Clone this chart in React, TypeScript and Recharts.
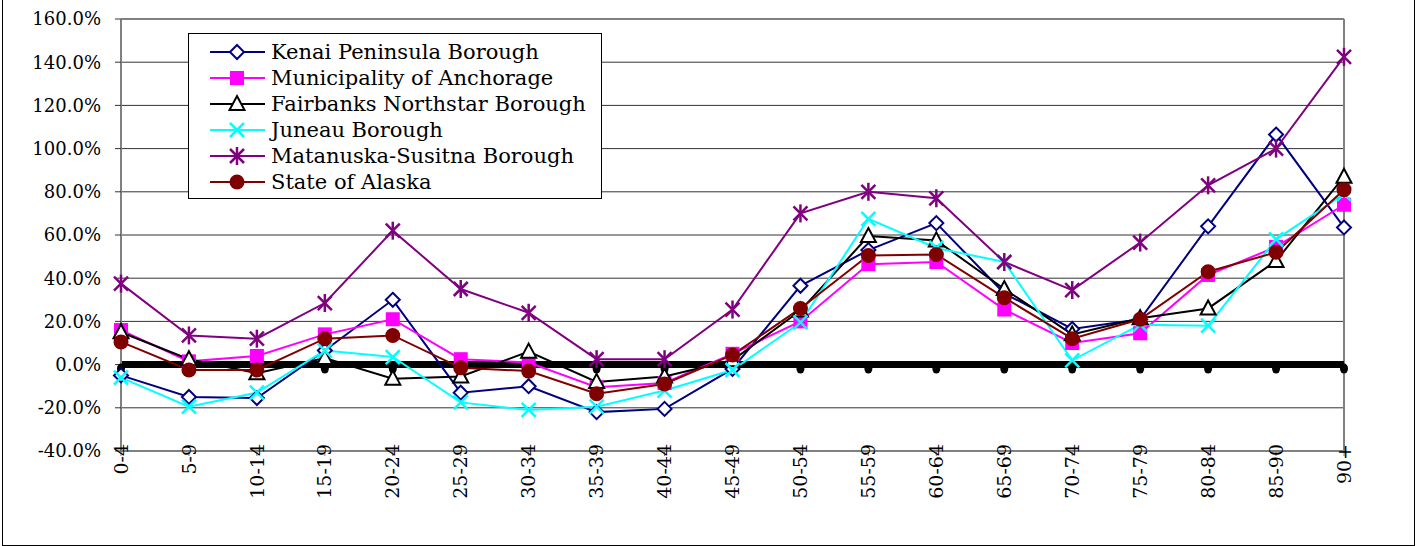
import React from "react";
import {
  LineChart,
  Line,
  XAxis,
  YAxis,
  CartesianGrid,
  Legend,
  ReferenceLine,
} from "recharts";

const categories = [
  "0-4", "5-9", "10-14", "15-19", "20-24", "25-29", "30-34", "35-39", "40-44", "45-49",
  "50-54", "55-59", "60-64", "65-69", "70-74", "75-79", "80-84", "85-90", "90+",
];

const kenai = [-5, -15, -15.5, 6.5, 30, -13, -10, -22, -20.5, -2, 36.5, 53, 65.5, 33, 16.5, 21, 64, 106.5, 63.5];
const anchorage = [16, 1.5, 4, 14, 21, 2.5, 1, -10.5, -8.5, 5, 20, 46.5, 47.5, 25.5, 10, 14.5, 41.5, 54.5, 74];
const fairbanks = [15, 2.5, -4, 3, -6.5, -5.5, 6, -8, -5.5, 2, 25, 59.5, 57.5, 35, 14, 21.5, 26, 48, 87];
const juneau = [-6, -19.5, -13, 6.5, 3.5, -17.5, -21, -19.5, -12, -2.5, 19.5, 67.5, 54, 47.5, 2, 18.5, 18, 58, 79];
const matSu = [37.5, 13.5, 12, 28.5, 62, 35, 24, 2.5, 2.5, 25.5, 70, 80, 77, 47.5, 34.5, 56.5, 83, 100, 142.5];
const alaska = [10.5, -2.5, -2.5, 12, 13.5, -1.5, -3, -13.5, -9, 4.5, 26, 50.5, 51, 31, 12, 21, 43, 52, 81];
const baseline = [0, 0, 0, 0, 0, 0, 0, 0, 0, 0, 0, 0, 0, 0, 0, 0, 0, 0, 0];

const yTicks = [-40, -20, 0, 20, 40, 60, 80, 100, 120, 140, 160];

const series = [
  { key: "kenai", name: "Kenai Peninsula Borough", color: "#000080", shape: "diamond" },
  { key: "anchorage", name: "Municipality of Anchorage", color: "#FF00FF", shape: "square" },
  { key: "fairbanks", name: "Fairbanks Northstar Borough", color: "#000000", shape: "triangle" },
  { key: "juneau", name: "Juneau Borough", color: "#00FFFF", shape: "cross" },
  { key: "matSu", name: "Matanuska-Susitna Borough", color: "#800080", shape: "star" },
  { key: "alaska", name: "State of Alaska", color: "#800000", shape: "circle" },
];

const data = categories.map((c, i) => ({
  cat: c,
  kenai: kenai[i],
  anchorage: anchorage[i],
  fairbanks: fairbanks[i],
  juneau: juneau[i],
  matSu: matSu[i],
  alaska: alaska[i],
  baseline: baseline[i],
}));

const FONT = "'DejaVu Serif', serif";

function Marker({ shape, color, cx, cy }: any) {
  const s = 7;
  switch (shape) {
    case "diamond":
      return (
        <polygon
          points={`${cx},${cy - s} ${cx + s},${cy} ${cx},${cy + s} ${cx - s},${cy}`}
          fill="#fff"
          stroke={color}
          strokeWidth={2}
        />
      );
    case "square":
      return <rect x={cx - 7} y={cy - 7} width={14} height={14} fill={color} />;
    case "triangle":
      return (
        <polygon
          points={`${cx},${cy - 8} ${cx + 7.5},${cy + 6} ${cx - 7.5},${cy + 6}`}
          fill="#fff"
          stroke={color}
          strokeWidth={2}
        />
      );
    case "cross":
      return (
        <g stroke={color} strokeWidth={2.5}>
          <line x1={cx - 7} y1={cy - 7} x2={cx + 7} y2={cy + 7} />
          <line x1={cx - 7} y1={cy + 7} x2={cx + 7} y2={cy - 7} />
        </g>
      );
    case "star":
      return (
        <g stroke={color} strokeWidth={2.5}>
          <line x1={cx - 7} y1={cy - 7} x2={cx + 7} y2={cy + 7} />
          <line x1={cx - 7} y1={cy + 7} x2={cx + 7} y2={cy - 7} />
          <line x1={cx} y1={cy - 9} x2={cx} y2={cy + 9} />
        </g>
      );
    case "circle":
      return <circle cx={cx} cy={cy} r={7.5} fill={color} />;
    default:
      return null;
  }
}

const makeDot = (shape: string, color: string) => (props: any) => {
  if (props.cx == null || props.cy == null) return <g key={props.index} />;
  return (
    <g key={props.index}>
      <Marker shape={shape} color={color} cx={props.cx} cy={props.cy} />
    </g>
  );
};

const baselineDot = (props: any) => (
  <ellipse key={props.index} cx={props.cx} cy={props.cy + 4} rx={4} ry={5} fill="#000" />
);

function XTick({ x, y, payload }: any) {
  return (
    <text
      x={x}
      y={y - 14}
      transform={`rotate(-90, ${x}, ${y - 14})`}
      textAnchor="end"
      dy="0.35em"
      style={{ fontFamily: FONT, fontSize: 19 }}
      fill="#000"
    >
      {payload.value}
    </text>
  );
}

function LegendBox() {
  return (
    <div
      style={{
        width: 414,
        height: 166,
        border: "1px solid #000",
        background: "#fff",
        boxSizing: "border-box",
      }}
    >
      <svg width={412} height={164}>
        {series.map((s, i) => {
          const y = 18 + i * 26;
          return (
            <g key={s.key}>
              <line x1={21} x2={76} y1={y} y2={y} stroke={s.color} strokeWidth={2} />
              <Marker shape={s.shape} color={s.color} cx={48} cy={y} />
              <text x={82} y={y + 7} style={{ fontFamily: FONT, fontSize: 21 }} fill="#000">
                {s.name}
              </text>
            </g>
          );
        })}
      </svg>
    </div>
  );
}

export default function App() {
  return (
    <div
      style={{
        position: "absolute",
        left: 0,
        top: 0,
        width: 1417,
        height: 546,
        background: "#fff",
        fontFamily: FONT,
      }}
    >
      <div
        style={{
          position: "absolute",
          left: 2,
          top: -2,
          width: 1413,
          height: 548,
          border: "1px solid #000",
          boxSizing: "border-box",
        }}
      />
      <LineChart
        width={1417}
        height={546}
        data={data}
        margin={{ top: 19, right: 73, bottom: 0, left: 0 }}
        style={{ fontFamily: FONT }}
      >
        <CartesianGrid vertical={false} stroke="#333" strokeWidth={1} />
        <ReferenceLine y={160} stroke="#808080" strokeWidth={2} />
        <ReferenceLine x="90+" stroke="#808080" strokeWidth={2} />
        <XAxis
          dataKey="cat"
          interval={0}
          height={95}
          tick={<XTick />}
          tickSize={5}
          axisLine={{ stroke: "#808080", strokeWidth: 2 }}
          tickLine={{ stroke: "#808080" }}
        />
        <YAxis
          width={121}
          domain={[-40, 160]}
          ticks={yTicks}
          interval={0}
          tickFormatter={(v: number) => `${v.toFixed(1)}%`}
          tick={{ fill: "#000", fontSize: 18, style: { fontFamily: FONT } }}
          tickSize={6}
          tickMargin={14}
          axisLine={{ stroke: "#808080", strokeWidth: 2 }}
          tickLine={{ stroke: "#333" }}
        />
        <Legend
          layout="vertical"
          align="center"
          verticalAlign="middle"
          content={() => <LegendBox />}
          wrapperStyle={{ left: 188, top: 33, width: 414, height: 166 }}
        />
        <Line
          dataKey="baseline"
          stroke="#000"
          strokeWidth={7}
          dot={baselineDot}
          activeDot={false}
          legendType="none"
          isAnimationActive={false}
        />
        {series.map((s) => (
          <Line
            key={s.key}
            dataKey={s.key}
            name={s.name}
            stroke={s.color}
            strokeWidth={2}
            dot={makeDot(s.shape, s.color)}
            activeDot={false}
            isAnimationActive={false}
          />
        ))}
      </LineChart>
    </div>
  );
}
